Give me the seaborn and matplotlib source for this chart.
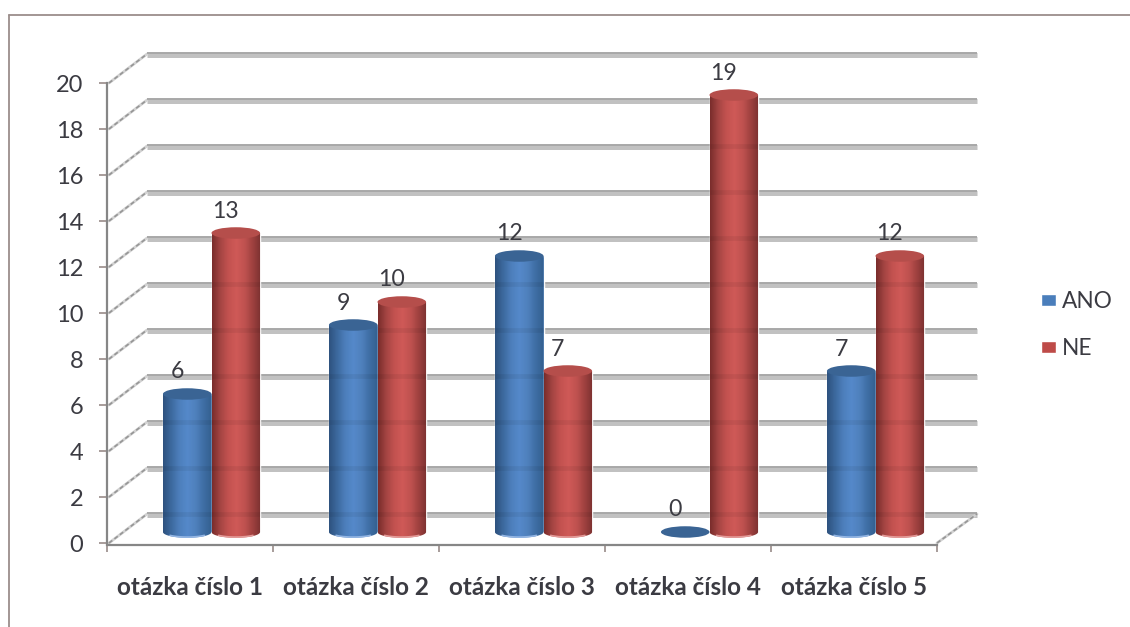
import numpy as np
import pandas as pd
import seaborn as sns
import matplotlib
matplotlib.use("Agg")
import matplotlib.pyplot as plt
from matplotlib.colors import LinearSegmentedColormap
from matplotlib.lines import Line2D
from matplotlib.patches import Ellipse
from matplotlib.path import Path
from matplotlib.transforms import Affine2D

categories = ["otázka číslo 1", "otázka číslo 2", "otázka číslo 3", "otázka číslo 4", "otázka číslo 5"]
ano_values = [6, 9, 12, 0, 7]
ne_values = [13, 10, 7, 19, 12]
series_names = ["ANO", "NE"]
y_ticks = list(range(0, 21, 2))

TEXT = "#3b3b42"
TICK = "#8f817e"
W, H = 1130, 627

sns.set_theme(style="white")
plt.rcParams["font.family"] = ["Lato", "DejaVu Sans"]

frame = pd.DataFrame({
    "category": categories * 2,
    "series": [series_names[0]] * 5 + [series_names[1]] * 5,
    "value": ano_values + ne_values,
})

fig = plt.figure(figsize=(W / 100, H / 100), dpi=100, facecolor="white")
ax = fig.add_axes([107 / W, (H - 543) / H, 830 / W, 460 / H], facecolor="none")

sns.barplot(data=frame, x="category", y="value", hue="series", ax=ax, width=0.585, gap=0,
            saturation=1, palette=["#4a7ebb", "#be4b48"], legend=True, zorder=3)

ax.set_xlim(-0.5, 4.5)
ax.set_ylim(0, 20)
px_x = 830 / 5      # pixels per category
px_y = 460 / 20     # pixels per value unit


def shifted(dx, dy):
    """Data transform moved by a pixel offset, used for the depth of the scene."""
    return ax.transData + Affine2D().translate(dx, dy)


floor_shift = shifted(21.5, 11)
back_dx, back_dy = 40, 29


def depth_edge(xs, ys):
    ax.plot(xs, ys, color="#d2d2d2", lw=2.0, zorder=1, clip_on=False)
    ax.plot(xs, ys, color="#969696", lw=1.2, ls=(0, (2.5, 1.6)), zorder=1.1, clip_on=False)


# Back wall gridlines: a darker upper edge on a lighter band
for v in y_ticks:
    ax.plot([-0.5, 4.5], [v, v], color="#c1c1c1", lw=3.6, solid_capstyle="butt",
            transform=shifted(back_dx, back_dy - 0.5), zorder=1, clip_on=False)
    ax.plot([-0.5, 4.5], [v, v], color="#a8a8a8", lw=1.4, solid_capstyle="butt",
            transform=shifted(back_dx, back_dy + 1), zorder=1.1, clip_on=False)
    depth_edge([-0.5 + 2 / px_x, -0.5 + back_dx / px_x], [v, v + back_dy / px_y])

# Right edge of the floor
depth_edge([4.5, 4.5 + back_dx / px_x], [0, back_dy / px_y])

blue_map = LinearSegmentedColormap.from_list("blue_cyl", ["#2e527f", "#3d6a9f", "#4d7fbc", "#5589ca", "#4f81bd", "#3f6ea5", "#34608f"])
red_map = LinearSegmentedColormap.from_list("red_cyl", ["#7a2d2c", "#a54543", "#c35250", "#cf5a57", "#c05250", "#a04240", "#7c3130"])
cap_colors = ["#3a6494", "#b54e4b"]
rim_colors = ["#93b5e3", "#e39a98"]
gradient = np.linspace(0, 1, 64)[None, :]
cap_h = 11.5 / px_y   # ellipse height in value units
grid_on_bar = (back_dy - 11) / px_y   # gridline height relative to the cylinder base

for container, cmap, cap, rim in zip(ax.containers, [blue_map, red_map], cap_colors, rim_colors):
    for bar in container:
        x0, w, h = bar.get_x(), bar.get_width(), bar.get_height()
        bar.set_transform(floor_shift)
        bar.set_clip_on(False)
        xc = x0 + w / 2
        if h > 0:
            # Cylinder body: the bar outline closed by a half ellipse at the base
            t = np.linspace(np.pi, 2 * np.pi, 40)
            verts = ([(x0, h)] + [(xc + w / 2 * np.cos(a), cap_h / 2 * np.sin(a)) for a in t]
                     + [(x0 + w, h), (x0, h)])
            im = ax.imshow(gradient, cmap=cmap, aspect="auto", zorder=3.1,
                           extent=(x0, x0 + w, -cap_h, h), interpolation="bilinear")
            im.set_transform(floor_shift)
            im.set_clip_path(Path(verts), transform=floor_shift)
            t = np.linspace(1.25 * np.pi, 1.75 * np.pi, 20)
            ax.plot(xc + w / 2 * np.cos(t), cap_h / 2 * np.sin(t) + 0.03, color=rim, lw=1.2,
                    transform=floor_shift, zorder=3.2, clip_on=False)
            # Gridlines show faintly through the cylinders
            for v in y_ticks:
                if v + grid_on_bar + cap_h / 2 < h:
                    ax.plot([x0, x0 + w], [v + grid_on_bar] * 2, color="black", alpha=0.06, lw=3.4,
                            solid_capstyle="butt", transform=floor_shift, zorder=3.25, clip_on=False)
        ax.add_patch(Ellipse((xc, h), w, cap_h, facecolor=cap, edgecolor="none",
                             transform=floor_shift, zorder=3.3, clip_on=False))

ax.set_xlim(-0.5, 4.5)
ax.set_ylim(0, 20)

# Value labels above each cylinder
for container, values in zip(ax.containers, [ano_values, ne_values]):
    for bar, value in zip(container, values):
        ax.annotate(str(value), (bar.get_x() + bar.get_width() / 2, value), xycoords=floor_shift,
                    xytext=(-10, 22), textcoords="offset pixels", ha="center", va="center",
                    fontsize=16.6, color=TEXT, zorder=4)

# Axes
sns.despine(ax=ax, top=True, right=True)
for side in ("left", "bottom"):
    ax.spines[side].set_color("#868686")
    ax.spines[side].set_linewidth(1.6)
ax.spines["bottom"].set_position(("outward", 1.2))
ax.set_xlabel("")
ax.set_ylabel("")
ax.set_yticks(y_ticks)
ax.tick_params(axis="y", length=6, width=1.1, color=TICK, pad=11, labelsize=17, labelcolor=TEXT, left=True)
ax.set_xticks(range(len(categories)))
ax.set_xticklabels(categories, fontweight="bold")
ax.set_xticks(np.arange(-0.5, 5, 1), minor=True)
ax.tick_params(axis="x", which="major", length=0, pad=22.5, labelsize=17.5, labelcolor=TEXT)
ax.tick_params(axis="x", which="minor", length=5, width=1.1, color=TICK, bottom=True)

# Legend to the right of the plot
sns.move_legend(ax, loc="center left", bbox_to_anchor=(1041 / W, (H - 325) / H),
                bbox_transform=fig.transFigure, frameon=False, title=None, fontsize=16.3,
                handlelength=0.68, handleheight=0.44, handletextpad=0.24, labelspacing=1.14,
                labelcolor=TEXT, borderpad=0, borderaxespad=0)

# Outer chart frame, open on the right and at the bottom
frame_color = "#9b8e8b"
fig.add_artist(Line2D([8.5 / W, 8.5 / W], [0, (H - 14.5) / H], color=frame_color, lw=1.3))
fig.add_artist(Line2D([8.5 / W, 1], [(H - 14.5) / H] * 2, color=frame_color, lw=1.3))

fig.savefig("out.png", dpi=100, facecolor="white")
